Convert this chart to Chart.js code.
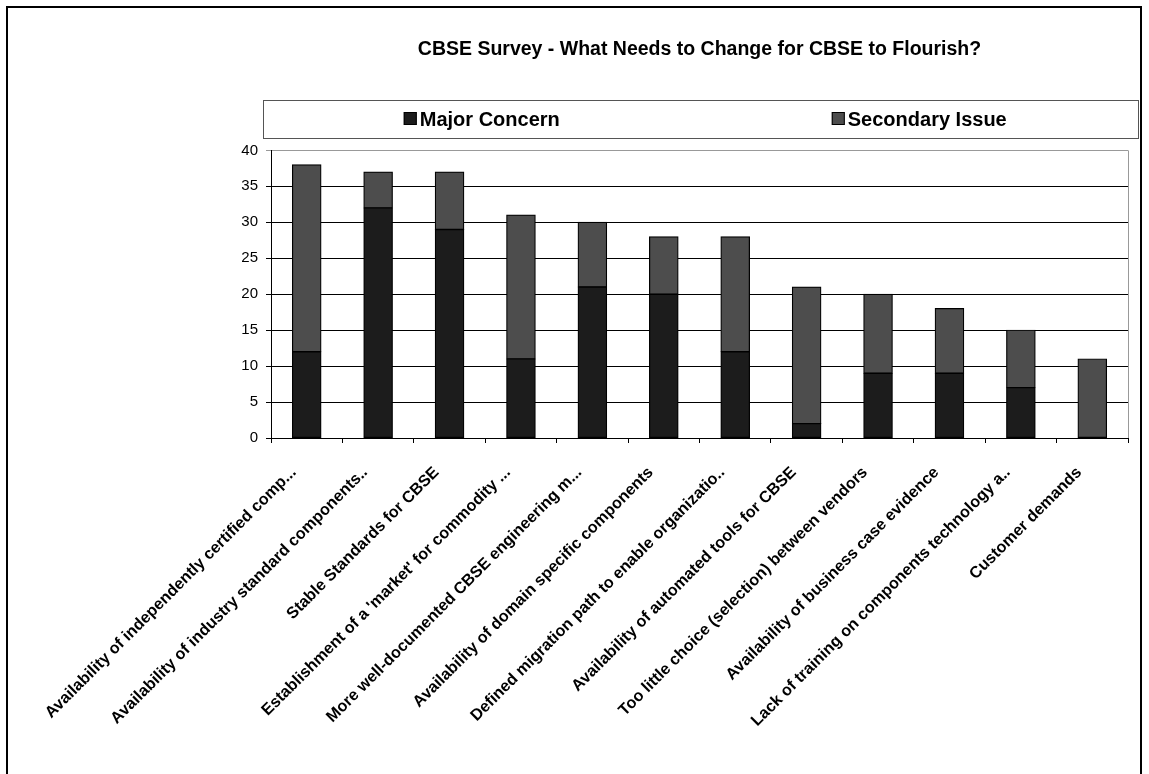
<!DOCTYPE html>
<html>
<head>
<meta charset="utf-8">
<script src="https://cdn.jsdelivr.net/npm/chart.js@4.4.0/dist/chart.umd.min.js"></script>
<style>
  html, body { margin: 0; padding: 0; background: #fff; }
  #wrap { width: 1149px; height: 774px; }
</style>
</head>
<body>
<div id="wrap"><canvas id="chart" width="1149" height="774"></canvas></div>
<script>
// survey data
const categories = [
  'Availability of independently certified comp...',
  'Availability of industry standard components..',
  'Stable Standards for CBSE',
  "Establishment of a 'market' for commodity ...",
  'More well-documented CBSE engineering m...',
  'Availability of domain specific components',
  'Defined migration path to enable organizatio..',
  'Availability of automated tools for CBSE',
  'Too little choice (selection) between vendors',
  'Availability of business case evidence',
  'Lack of training on components technology a..',
  'Customer demands'
];
const majorConcern = [12, 32, 29, 11, 21, 20, 12, 2, 9, 9, 7, 0];
const secondaryIssue = [26, 5, 8, 20, 9, 8, 16, 19, 11, 9, 8, 11];
const yTicks = [0, 5, 10, 15, 20, 25, 30, 35, 40];

const FONT = "'Liberation Sans', Arial, Helvetica, sans-serif";

// frame, plot border and legend box
const decor = {
  id: 'decor',
  afterDraw(chart) {
    const ctx = chart.ctx;
    const a = chart.chartArea;
    ctx.save();
    // outer frame (bottom is cut off)
    ctx.strokeStyle = '#000';
    ctx.lineWidth = 2;
    ctx.beginPath();
    ctx.moveTo(7, chart.height + 2);
    ctx.lineTo(7, 7);
    ctx.lineTo(chart.width - 8, 7);
    ctx.lineTo(chart.width - 8, chart.height + 2);
    ctx.stroke();

    // right edge of plot area
    ctx.strokeStyle = '#999';
    ctx.lineWidth = 1;
    ctx.beginPath();
    ctx.moveTo(Math.round(a.right) + 0.5, a.top);
    ctx.lineTo(Math.round(a.right) + 0.5, a.bottom);
    ctx.stroke();

    // legend box
    const lx = a.left - 8, rx = chart.width - 11, ty = 100, by = 138;
    ctx.strokeStyle = '#555';
    ctx.strokeRect(lx + 0.5, ty + 0.5, rx - lx, by - ty);
    ctx.font = 'bold 20px ' + FONT;
    ctx.textBaseline = 'middle';
    ctx.textAlign = 'left';
    const half = (rx - lx) / 2;
    const cy = (ty + by) / 2;
    chart.data.datasets.forEach((ds, i) => {
      const tw = ctx.measureText(ds.label).width;
      const w = 13 + 3 + tw;
      const x0 = lx + half * i + (half - w) / 2;
      ctx.fillStyle = ds.backgroundColor;
      ctx.fillRect(x0, cy - 7, 13, 13);
      ctx.strokeStyle = '#000';
      ctx.strokeRect(x0 + 0.5, cy - 6.5, 12, 12);
      ctx.fillStyle = '#000';
      ctx.fillText(ds.label, x0 + 16, cy + 1);
    });
    ctx.restore();
  }
};

const ctx = document.getElementById('chart').getContext('2d');
const myChart = new Chart(ctx, {
  type: 'bar',
  data: {
    labels: categories,
    datasets: [{
      label: 'Major Concern',
      data: majorConcern,
      backgroundColor: '#1c1c1c',
      borderColor: '#000',
      borderWidth: 1.2,
      borderSkipped: false,
      inflateAmount: 0.5
    }, {
      label: 'Secondary Issue',
      data: secondaryIssue,
      backgroundColor: '#4d4d4d',
      borderColor: '#000',
      borderWidth: 1.2,
      borderSkipped: false,
      inflateAmount: 0.5
    }]
  },
  options: {
    responsive: false,
    animation: false,
    layout: { padding: { top: 0, left: 0, right: 21, bottom: 0 } },
    datasets: { bar: { categoryPercentage: 1, barPercentage: 0.4 } },
    plugins: {
      legend: { display: false },
      tooltip: { enabled: false },
      title: {
        display: true,
        fullSize: false,
        text: 'CBSE Survey - What Needs to Change for CBSE to Flourish?',
        color: '#000',
        font: { family: FONT, size: 19.5, weight: 'bold', lineHeight: 1.2 },
        padding: { top: 38, bottom: 89 }
      }
    },
    scales: {
      x: {
        stacked: true,
        border: { display: true, color: '#000', width: 1 },
        grid: { drawOnChartArea: false, drawTicks: true, tickLength: 5, color: '#000', offset: true },
        ticks: {
          autoSkip: false,
          maxRotation: 45,
          minRotation: 45,
          color: '#000',
          padding: 20,
          labelOffset: -13,
          font: { family: FONT, size: 16.2, weight: 'bold' }
        },
        afterFit(scale) {
          scale.height = 336;
          scale.paddingLeft = 0;
          scale.paddingRight = 0;
        }
      },
      y: {
        stacked: true,
        min: 0,
        max: 40,
        border: { display: true, color: '#000', width: 1 },
        grid: {
          color: c => (c.tick && c.tick.value === 40 ? '#999' : '#000'),
          tickLength: 5
        },
        afterBuildTicks(scale) {
          scale.ticks = yTicks.map(v => ({ value: v }));
        },
        ticks: {
          color: '#000',
          padding: 8,
          font: { family: FONT, size: 15 }
        },
        afterFit(scale) {
          scale.width = 271;
        }
      }
    }
  },
  plugins: [decor]
});
</script>
</body>
</html>
